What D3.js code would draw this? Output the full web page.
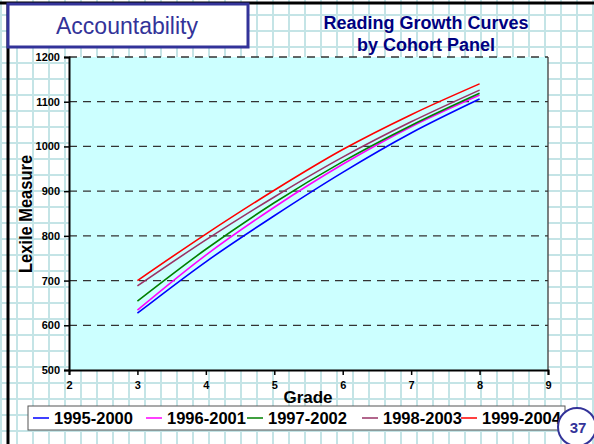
<!DOCTYPE html>
<html><head><meta charset="utf-8">
<script src="https://cdn.jsdelivr.net/npm/d3@7"></script>
<style>body{margin:0;background:#fff;} svg{display:block;font-family:"Liberation Sans",Arial,sans-serif;}</style>
</head><body><svg id="c" width="594" height="444"></svg>
<script>
const grades = [3, 4, 5, 6, 7, 8];
const cohorts = ["1995-2000", "1996-2001", "1997-2002", "1998-2003", "1999-2004"];
const v1995 = [627, 742, 845, 942, 1030, 1106];
const v1996 = [634, 757, 864, 960, 1044, 1115];
const v1997 = [654, 770, 874, 966, 1047, 1119];
const v1998 = [688, 791, 887, 976, 1055, 1126];
const v1999 = [700, 804, 902, 993, 1071, 1140];
const colors = ["#0000FF", "#FF00FF", "#008000", "#993366", "#FF0000"];
const yTicks = [500, 600, 700, 800, 900, 1000, 1100, 1200];
const xTicks = [2, 3, 4, 5, 6, 7, 8, 9];
const seriesVals = [v1995, v1996, v1997, v1998, v1999];

const svg = d3.select("#c");
const W = 594, H = 444;

// graph-paper background
const bg = svg.append("g");
for (let x = 1; x < W; x += 16) bg.append("line").attr("x1", x).attr("x2", x).attr("y1", 0).attr("y2", H).attr("stroke", "#c4e4e6").attr("stroke-width", 2);
for (let y = 15; y < H; y += 16) bg.append("line").attr("x1", 0).attr("x2", W).attr("y1", y).attr("y2", y).attr("stroke", "#c4e4e6").attr("stroke-width", 2);
// slide borders
svg.append("line").attr("x1", 0).attr("x2", W).attr("y1", 3).attr("y2", 3).attr("stroke", "#000").attr("stroke-width", 3);
svg.append("line").attr("x1", 8).attr("x2", 8).attr("y1", 2).attr("y2", H).attr("stroke", "#000").attr("stroke-width", 3);

// header box
svg.append("rect").attr("x", 8).attr("y", 4).attr("width", 240).attr("height", 43).attr("fill", "#fff").attr("stroke", "#333399").attr("stroke-width", 3);
svg.append("text").attr("x", 127).attr("y", 34).attr("text-anchor", "middle").attr("fill", "#333399").attr("font-size", 23).text("Accountability");

// title
const t = svg.append("text").attr("text-anchor", "middle").attr("fill", "#000080").attr("font-size", 18).attr("font-weight", "bold");
t.append("tspan").attr("x", 426).attr("y", 29).text("Reading Growth Curves");
t.append("tspan").attr("x", 426).attr("y", 51).text("by Cohort Panel");

const L = 69, R = 548, T = 57, B = 370;
const x = d3.scaleLinear().domain([2, 9]).range([L, R]);
const y = d3.scaleLinear().domain([500, 1200]).range([B, T]);

svg.append("rect").attr("x", L).attr("y", T).attr("width", R - L).attr("height", B - T).attr("fill", "#CCFFFF");
// right border
svg.append("line").attr("x1", R).attr("x2", R).attr("y1", T).attr("y2", B).attr("stroke", "#555").attr("stroke-width", 1.5);

// gridlines
svg.append("g").selectAll("line").data(yTicks.filter(d => d > 500)).join("line")
  .attr("x1", L).attr("x2", R).attr("y1", d => y(d)).attr("y2", d => y(d))
  .attr("stroke", "#333").attr("stroke-width", 1.3).attr("stroke-dasharray", "8,6");

// axes
const yAxis = svg.append("g").attr("transform", `translate(${L},0)`)
  .call(d3.axisLeft(y).tickValues(yTicks).tickSize(5).tickPadding(4).tickFormat(d3.format("d")));
const xAxis = svg.append("g").attr("transform", `translate(0,${B})`)
  .call(d3.axisBottom(x).tickValues(xTicks).tickSize(5).tickPadding(6).tickFormat(d3.format("d")));
[yAxis, xAxis].forEach(a => {
  a.select(".domain").attr("stroke", "#000").attr("stroke-width", 2);
  a.selectAll(".tick line").attr("stroke", "#000").attr("stroke-width", 1.5);
  a.selectAll("text").attr("font-size", 11).attr("font-weight", "bold").attr("fill", "#000").attr("font-family", "Liberation Sans, Arial, sans-serif");
});

// axis titles
svg.append("text").attr("transform", "translate(32,214) rotate(-90) scale(1,1.12)").attr("text-anchor", "middle")
  .attr("font-size", 16.5).attr("font-weight", "bold").text("Lexile Measure");
svg.append("text").attr("x", 308).attr("y", 403).attr("text-anchor", "middle")
  .attr("font-size", 17).attr("font-weight", "bold").text("Grade");

// lines
const line = d3.line().x((d, i) => x(grades[i])).y(d => y(d)).curve(d3.curveMonotoneX);
svg.append("g").selectAll("path").data(seriesVals).join("path")
  .attr("d", d => line(d)).attr("fill", "none").attr("stroke", (d, i) => colors[i]).attr("stroke-width", 1.6);

// legend
svg.append("rect").attr("x", 28).attr("y", 406).attr("width", 537).attr("height", 24).attr("fill", "#fff").attr("stroke", "#555").attr("stroke-width", 1);
const lineStarts = [33, 146, 247, 362, 461];
const lg = svg.append("g").selectAll("g").data(cohorts).join("g").attr("transform", (d, i) => `translate(${lineStarts[i]},418)`);
lg.append("line").attr("x1", 0).attr("x2", 16).attr("y1", 0).attr("y2", 0).attr("stroke", (d, i) => colors[i]).attr("stroke-width", 1.5);
lg.append("text").attr("x", 21).attr("y", 6).attr("font-size", 16.5).attr("font-weight", "bold").text(d => d);

// page number
svg.append("circle").attr("cx", 577).attr("cy", 427).attr("r", 19).attr("fill", "#fff").attr("stroke", "#333399").attr("stroke-width", 2);
svg.append("text").attr("x", 578).attr("y", 433).attr("text-anchor", "middle").attr("font-size", 15).attr("font-weight", "bold").attr("fill", "#333399").text("37");
</script></body></html>
